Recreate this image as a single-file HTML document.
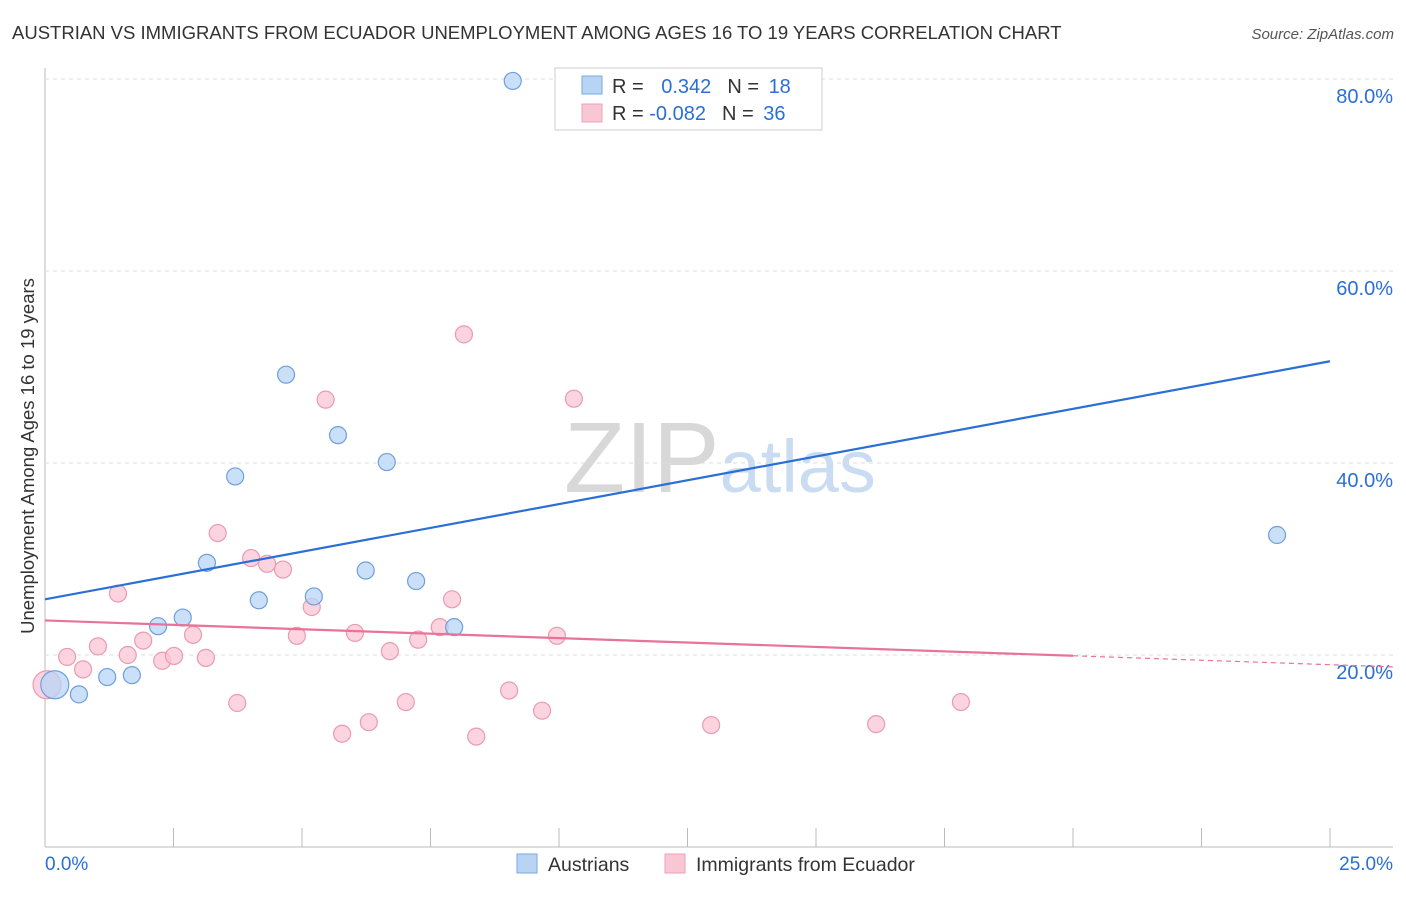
<!DOCTYPE html>
<html><head><meta charset="utf-8"><style>
body{margin:0;background:#fff;font-family:"Liberation Sans",sans-serif;}
svg text{font-family:"Liberation Sans",sans-serif;}
</style></head><body>
<svg id="c" width="1406" height="892">
<text x="12" y="39" font-size="18.5" fill="#333">AUSTRIAN VS IMMIGRANTS FROM ECUADOR UNEMPLOYMENT AMONG AGES 16 TO 19 YEARS CORRELATION CHART</text>
<text x="1394" y="39" font-size="15" fill="#555" font-style="italic" text-anchor="end">Source: ZipAtlas.com</text>
<text x="720" y="492" font-size="100" fill="#ddd" text-anchor="middle" font-family="Liberation Serif"><tspan fill="#d8d8d8">ZIP</tspan><tspan fill="#c9dcf2" font-family="Liberation Sans" font-size="74">atlas</tspan></text>
<text transform="translate(34,456) rotate(-90)" font-size="18.5" fill="#333" text-anchor="middle">Unemployment Among Ages 16 to 19 years</text>
<g id="grid"></g><g id="marks"></g>
<g>
<rect x="555" y="68" width="267" height="62" fill="#fff" stroke="#ccc"/>
<rect x="582" y="76" width="20" height="18" fill="#b8d4f5" stroke="#7aa8e0"/>
<rect x="582" y="104" width="20" height="18" fill="#f9c6d4" stroke="#f0a0b8"/>
<text x="612" y="93" font-size="20" fill="#333">R = <tspan fill="#2a6fd6" dx="12">0.342</tspan><tspan dx="16" fill="#333">N = </tspan><tspan fill="#2a6fd6" dx="4">18</tspan></text>
<text x="612" y="120" font-size="20" fill="#333">R = <tspan fill="#2a6fd6">-0.082</tspan><tspan dx="16" fill="#333">N = </tspan><tspan fill="#2a6fd6" dx="4">36</tspan></text>
</g>
<g>
<rect x="517" y="854" width="20" height="19" fill="#b8d4f5" stroke="#7aa8e0"/>
<text x="548" y="871" font-size="19.5" fill="#333">Austrians</text>
<rect x="665" y="854" width="20" height="19" fill="#f9c6d4" stroke="#f0a0b8"/>
<text x="696" y="871" font-size="19.5" fill="#333">Immigrants from Ecuador</text>
</g>
</svg>
<script>
const yTicks=[20,40,60,80];
const xTickLabels=["0.0%","25.0%"];
const blueX=[0.19,0.66,1.21,1.69,2.20,2.68,3.15,3.70,4.16,4.69,5.23,5.70,6.24,6.65,7.22,7.96,9.10,23.97];
const blueY=[16.9,15.9,17.7,17.9,23.0,23.9,29.6,38.6,25.7,49.2,26.1,42.9,28.8,40.1,27.7,22.9,79.8,32.5];
const pinkX=[0.04,0.43,0.74,1.03,1.42,1.61,1.91,2.28,2.51,2.88,3.13,3.36,3.74,4.01,4.32,4.63,4.90,5.19,5.46,5.78,6.03,6.30,6.71,7.02,7.26,7.68,7.92,8.15,8.39,9.03,9.67,9.96,10.29,12.96,16.17,17.82];
const pinkY=[16.9,19.8,18.5,20.9,26.4,20.0,21.5,19.4,19.9,22.1,19.7,32.7,15.0,30.1,29.5,28.9,22.0,25.0,46.6,11.8,22.3,13.0,20.4,15.1,21.6,22.9,25.8,53.4,11.5,16.3,14.2,22.0,46.7,12.7,12.8,15.1];
const blueTrend=[25.8,50.6];
const pinkTrend=[23.6,19.0];
const X=v=>45+v/25*1285, Y=v=>847-v*9.6;
const NS="http://www.w3.org/2000/svg";
function mk(t,a,p){const e=document.createElementNS(NS,t);for(const k in a)e.setAttribute(k,a[k]);p.appendChild(e);return e;}
const g=document.getElementById('grid'), m=document.getElementById('marks');
mk('line',{x1:45,y1:68,x2:45,y2:847,stroke:'#bbb'},g);
mk('line',{x1:45,y1:847,x2:1393,y2:847,stroke:'#bbb'},g);
for(let i=0;i<=10;i++){const l=mk('line',{x1:X(i*2.5),y1:828,x2:X(i*2.5),y2:847,stroke:'#bbb'},g);

}
yTicks.forEach(t=>{const l=mk('line',{x1:45,y1:Y(t),x2:1393,y2:Y(t),stroke:'#ddd','stroke-dasharray':'4,4'},g);


const tx=mk('text',{x:1393,y:Y(t)+24,'font-size':20,fill:'#2a6fd6','text-anchor':'end'},g);tx.textContent=t.toFixed(1)+'%';

});
const a=mk('text',{x:45,y:870,'font-size':19,fill:'#2a6fd6'},g);a.textContent=xTickLabels[0];


const b=mk('text',{x:1393,y:870,'font-size':19,fill:'#2a6fd6','text-anchor':'end'},g);b.textContent=xTickLabels[1];


function pts(xs,ys,fill,stroke,name){xs.forEach((x,i)=>{const c=mk('circle',{cx:X(x),cy:Y(ys[i]),r:i==0?14:8.5,fill:fill,stroke:stroke,'stroke-width':1.2,'fill-opacity':0.75},m);

});}
pts(pinkX,pinkY,'#f9c6d4','#eb9ab3','ecuador-point');
pts(blueX,blueY,'#b8d4f5','#6f9fdc','austrian-point');
const bl=mk('line',{x1:X(0),y1:Y(blueTrend[0]),x2:X(25),y2:Y(blueTrend[1]),stroke:'#2a6fd6','stroke-width':2.2},m);


const py=x=>pinkTrend[0]+(pinkTrend[1]-pinkTrend[0])*x/25;
const pl=mk('line',{x1:X(0),y1:Y(py(0)),x2:X(20),y2:Y(py(20)),stroke:'#e8729a','stroke-width':2.2},m);


const pd=mk('line',{x1:X(20),y1:Y(py(20)),x2:1393,y2:Y(py(26.3)),stroke:'#e8729a','stroke-width':1.2,'stroke-dasharray':'5,4'},m);


</script>
</body></html>
